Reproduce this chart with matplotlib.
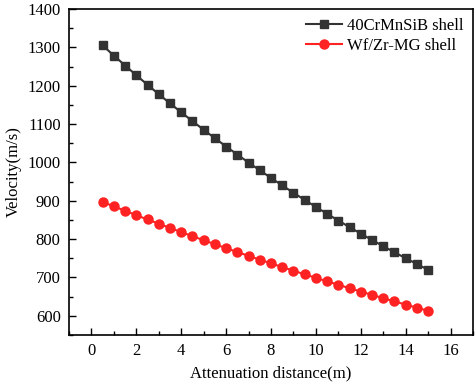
import matplotlib
matplotlib.use('Agg')
import matplotlib.pyplot as plt
from matplotlib.ticker import MultipleLocator

plt.rcParams['font.family'] = ['Liberation Serif', 'DejaVu Serif']

# attenuation distance (m)
distance = [0.5, 1.0, 1.5, 2.0, 2.5, 3.0, 3.5, 4.0, 4.5, 5.0,
            5.5, 6.0, 6.5, 7.0, 7.5, 8.0, 8.5, 9.0, 9.5, 10.0,
            10.5, 11.0, 11.5, 12.0, 12.5, 13.0, 13.5, 14.0, 14.5, 15.0]

# velocity (m/s)
v_40cr = [1305, 1278.5, 1252.6, 1227.2, 1202.3, 1177.9, 1154.0, 1130.6, 1107.6, 1085.1,
          1063.1, 1041.5, 1020.4, 999.7, 979.4, 959.5, 940.0, 920.9, 902.2, 883.9,
          866.0, 848.4, 831.2, 814.3, 797.8, 781.6, 765.7, 750.2, 735.0, 720.1]
v_wfzr = [897, 885.3, 873.8, 862.4, 851.2, 840.1, 829.1, 818.3, 807.6, 797.1,
          786.7, 776.4, 766.3, 756.3, 746.4, 736.7, 727.1, 717.6, 708.2, 699.0,
          689.9, 680.9, 672.0, 663.2, 654.6, 646.0, 637.6, 629.3, 621.1, 613.0]

fig = plt.figure(figsize=(4.77, 3.89), dpi=100)
ax = fig.add_axes([0.1447, 0.1388, 0.847, 0.838])

ax.plot(distance, v_40cr, color='#333333', marker='s', markersize=6, lw=1.5,
        label='40CrMnSiB shell')
ax.plot(distance, v_wfzr, color='#ff2222', marker='o', markersize=6.5, lw=1.5,
        label='Wf/Zr-MG shell')

ax.set_xlim(-1, 17)
ax.set_ylim(550, 1400)
ax.xaxis.set_major_locator(MultipleLocator(2))
ax.xaxis.set_minor_locator(MultipleLocator(1))
ax.yaxis.set_major_locator(MultipleLocator(100))
ax.yaxis.set_minor_locator(MultipleLocator(50))
ax.tick_params(which='both', direction='in', labelsize=12, width=1)
ax.tick_params(which='major', length=5, pad=6)
ax.tick_params(which='minor', length=3)
for s in ax.spines.values():
    s.set_linewidth(1.2)

ax.set_xlabel('Attenuation distance(m)', fontsize=12, labelpad=4)
ax.set_ylabel('Velocity(m/s)', fontsize=12, labelpad=4)

ax.legend(loc='upper right', frameon=False, fontsize=12, handlelength=2.2,
          handletextpad=0.3, labelspacing=0.2, borderaxespad=0.15)

plt.savefig('out.png', dpi=100)
